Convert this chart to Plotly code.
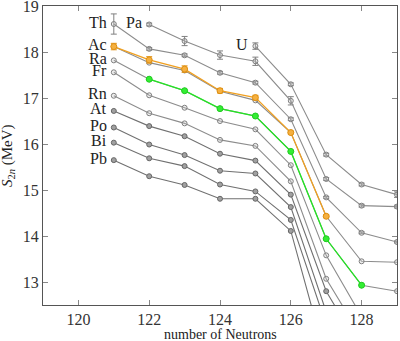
import plotly.graph_objects as go

# neutron numbers shown on the x axis
N = [121, 122, 123, 124, 125, 126, 127, 128, 129]

# S2n values (MeV) per element
Th = [18.61, 18.07, 17.93, 17.55, 17.335, 16.54, 14.84, 14.07, 13.87]
Pa = [None, 18.60, 18.24, 17.935, 17.80, 16.94, 15.24, 14.66, 14.64]
U = [None, None, None, None, 18.13, 17.30, 15.77, 15.12, 14.90]
Ac = [18.12, 17.77, 17.60, 17.15, 16.95, 16.25, 14.43, 13.45, 13.43]
Ra = [17.82, 17.41, 17.16, 16.77, 16.61, 15.84, 13.94, 12.93, 12.80]
Fr = [17.56, 17.06, 16.79, 16.50, 16.32, 15.54, 13.58, 12.25, None]
Rn = [17.05, 16.67, 16.45, 16.09, 15.96, 15.19, 13.07, 11.80, None]
At = [16.72, 16.39, 16.17, 15.79, 15.64, 14.90, 12.80, 11.50, None]
Po = [16.36, 15.99, 15.76, 15.42, 15.36, 14.63, 12.35, None, None]
Bi = [16.03, 15.69, 15.52, 15.12, 14.97, 14.35, 12.07, None, None]
Pb = [15.65, 15.30, 15.11, 14.81, 14.81, 14.11, 11.31, None, None]

# highlighted chains
Ac_new = [18.12, 17.83, 17.63, 17.16, 17.01, 16.25, 14.43, None, None]
Ra_new = [None, 17.41, 17.16, 16.77, 16.61, 15.84, 13.94, 12.93, None]

# uncertainties
Th_err = [0.22, 0.03, 0.03, 0.03, 0.03, 0.03, 0.02, 0.02, 0.02]
Pa_err = [0, 0.03, 0.10, 0.09, 0.09, 0.09, 0.03, 0.03, 0.03]
U_err = [0, 0, 0, 0, 0.07, 0.03, 0.03, 0.03, 0.06]
Ac_new_err = [0.07, 0.07, 0.07, 0.05, 0.05, 0.03, 0.03, 0, 0]

SERIF = "Liberation Serif, Times New Roman, serif"

light = dict(line="#8c8c8c", fill="rgba(200,200,200,0.3)", edge="#808080")
dark = dict(line="#707070", fill="#a0a0a0", edge="#666666")

chains = [
    ("Th", Th, Th_err, light),
    ("Pa", Pa, Pa_err, light),
    ("U", U, U_err, light),
    ("Ac", Ac, None, light),
    ("Ra", Ra, None, light),
    ("Fr", Fr, None, light),
    ("Rn", Rn, None, light),
    ("At", At, None, dark),
    ("Po", Po, None, dark),
    ("Bi", Bi, None, dark),
    ("Pb", Pb, None, dark),
]

fig = go.Figure()

for name, ys, err, st in chains:
    fig.add_trace(go.Scatter(
        x=N, y=ys, mode="lines+markers", name=name,
        line=dict(color=st["line"], width=1.1),
        marker=dict(symbol="circle", size=5, color=st["fill"],
                    line=dict(color=st["edge"], width=1)),
        error_y=dict(type="data", array=err, visible=err is not None,
                     color=st["edge"], thickness=1, width=3),
    ))

fig.add_trace(go.Scatter(
    x=N, y=Ac_new, mode="lines+markers", name="Ac new",
    line=dict(color="#f0a020", width=1.3),
    marker=dict(symbol="circle", size=6, color="#f5b040",
                line=dict(color="#e09010", width=1)),
    error_y=dict(type="data", array=Ac_new_err, color="#e09010", thickness=1, width=3),
))
fig.add_trace(go.Scatter(
    x=N, y=Ra_new, mode="lines+markers", name="Ra new",
    line=dict(color="#22e622", width=1.3),
    marker=dict(symbol="circle", size=6, color="#33ee33",
                line=dict(color="#22cc22", width=1)),
))

# element labels next to the first point of each chain
labels = [("Th", 121, 18.61), ("Pa", 122, 18.60), ("U", 125, 18.13),
          ("Ac", 121, 18.12), ("Ra", 121, 17.82), ("Fr", 121, 17.56),
          ("Rn", 121, 17.05), ("At", 121, 16.72), ("Po", 121, 16.36),
          ("Bi", 121, 16.03), ("Pb", 121, 15.65)]
for txt, lx, ly in labels:
    fig.add_annotation(x=lx, y=ly, text=txt, showarrow=False,
                       xanchor="right", yanchor="middle", xshift=-5, yshift=2,
                       font=dict(family=SERIF, size=16, color="#222"))

# axis titles
fig.add_annotation(x=0.5, y=-0.066, xref="paper", yref="paper", text="number of Neutrons",
                   showarrow=False, xanchor="center", yanchor="top",
                   font=dict(family=SERIF, size=14, color="#222"))
fig.add_annotation(x=-0.1, y=0.5, xref="paper", yref="paper",
                   text="<i>S</i><sub>2<i>n</i></sub> (MeV)", textangle=-90,
                   showarrow=False, xanchor="center", yanchor="middle",
                   font=dict(family=SERIF, size=15, color="#222"))

axis_style = dict(showline=True, linecolor="#555", linewidth=1.2, mirror="ticks",
                  ticks="inside", ticklen=5, tickcolor="#888", showgrid=False,
                  zeroline=False, automargin=False, ticklabeloverflow="allow",
                  tickfont=dict(family=SERIF, size=16, color="#333"))

fig.update_layout(
    width=400, height=341,
    margin=dict(l=43, r=3, t=6, b=36),
    plot_bgcolor="white", paper_bgcolor="white",
    showlegend=False,
    xaxis=dict(range=[119, 129], tickvals=[120, 122, 124, 126, 128], **axis_style),
    yaxis=dict(range=[12.5, 19.002], tickvals=[13, 14, 15, 16, 17, 18, 19], **axis_style),
)

fig.write_html("out.html", config={"displayModeBar": False},
               post_script="document.body.style.margin='0';")
